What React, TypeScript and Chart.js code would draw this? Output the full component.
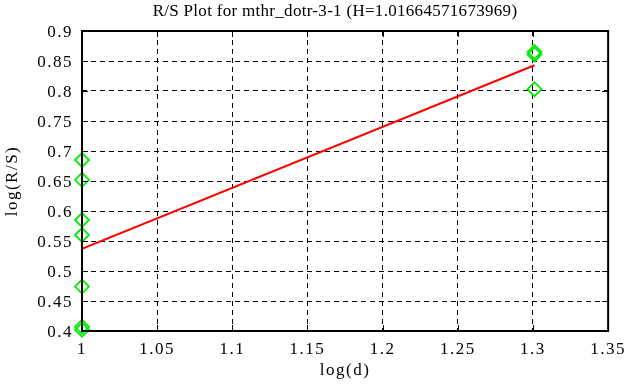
import React, { useEffect, useRef } from "react";
import { Chart, registerables } from "chart.js";

Chart.register(...registerables);

const TITLE = "R/S Plot for mthr_dotr-3-1 (H=1.01664571673969)";
const X_LABEL = "log(d)";
const Y_LABEL = "log(R/S)";

const xTicks = [1, 1.05, 1.1, 1.15, 1.2, 1.25, 1.3, 1.35];
const yTicks = [0.4, 0.45, 0.5, 0.55, 0.6, 0.65, 0.7, 0.75, 0.8, 0.85, 0.9];

const pointsX = [1, 1, 1, 1, 1, 1, 1, 1.30103, 1.30103, 1.30103];
const pointsY = [0.685, 0.652, 0.585, 0.56, 0.474, 0.407, 0.402, 0.865, 0.861, 0.803];

const fitX = [1, 1.30103];
const fitY = [0.537, 0.843];

const FONT = "'Liberation Serif', 'Times New Roman', serif";

export default function App() {
  const ref = useRef<HTMLCanvasElement | null>(null);

  useEffect(() => {
    const canvas = ref.current;
    if (!canvas) return;

    const framePlugin = {
      id: "frame",
      beforeDraw(chart: any) {
        (chart.ctx as any).letterSpacing = "1.5px";
      },
      afterDatasetsDraw(chart: any) {
        const { ctx, chartArea } = chart;
        const { left, right, top, bottom } = chartArea;
        const xs = chart.scales.x;
        const ys = chart.scales.y;
        ctx.save();
        ctx.strokeStyle = "#000";
        ctx.lineWidth = 1;
        ctx.setLineDash([]);
        const tl = 6;
        ctx.beginPath();
        xTicks.forEach((v) => {
          const px = Math.round(xs.getPixelForValue(v)) + 0.5;
          ctx.moveTo(px, top);
          ctx.lineTo(px, top + tl);
          ctx.moveTo(px, bottom);
          ctx.lineTo(px, bottom - tl);
        });
        yTicks.forEach((v) => {
          const py = Math.round(ys.getPixelForValue(v)) + 0.5;
          ctx.moveTo(left, py);
          ctx.lineTo(left + tl, py);
          ctx.moveTo(right, py);
          ctx.lineTo(right - tl, py);
        });
        ctx.stroke();
        ctx.lineWidth = 2;
        ctx.strokeRect(left, top, right - left, bottom - top);
        ctx.restore();
      },
      afterDraw(chart: any) {
        const { ctx } = chart;
        ctx.save();
        (ctx as any).letterSpacing = "0.3px";
        ctx.fillStyle = "#000";
        ctx.font = "17px " + FONT;
        ctx.textAlign = "center";
        ctx.textBaseline = "middle";
        ctx.fillText(TITLE, 335, 12);
        ctx.restore();
      },
    };

    const chart = new Chart(canvas, {
      type: "scatter",
      data: {
        datasets: [
          {
            label: "fit",
            data: fitX.map((x, i) => ({ x, y: fitY[i] })),
            showLine: true,
            borderColor: "#ff0000",
            borderWidth: 2,
            pointRadius: 0,
            order: 1,
          },
          {
            label: "data",
            data: pointsX.map((x, i) => ({ x, y: pointsY[i] })),
            showLine: false,
            clip: false,
            pointStyle: "rectRot",
            pointRadius: 7,
            borderColor: "#00ee00",
            backgroundColor: "rgba(0,0,0,0)",
            pointBorderWidth: 1.8,
            order: 2,
          } as any,
        ],
      },
      options: {
        animation: false,
        responsive: false,
        maintainAspectRatio: false,
        events: [],
        layout: { padding: { left: 0, right: 22, top: 31, bottom: 0 } },
        plugins: {
          legend: { display: false },
          title: { display: false },
          tooltip: { enabled: false },
        },
        scales: {
          x: {
            type: "linear",
            min: 1,
            max: 1.35,
            afterFit: (s: any) => {
              s.height = 56;
            },
            afterBuildTicks: (s: any) => {
              s.ticks = xTicks.map((v) => ({ value: v }));
            },
            ticks: {
              color: "#000",
              font: { family: FONT, size: 17 },
              padding: 8,
              autoSkip: false,
              maxRotation: 0,
              callback: (v: any) => String(Math.round(Number(v) * 100) / 100),
            },
            grid: { color: "#000", lineWidth: 1, drawTicks: false },
            border: { display: false, dash: [5, 4] },
            title: {
              display: true,
              text: X_LABEL,
              color: "#000",
              font: { family: FONT, size: 17 },
              padding: { top: 0, bottom: 6 },
            },
          },
          y: {
            type: "linear",
            min: 0.4,
            max: 0.9,
            afterFit: (s: any) => {
              s.width = 82;
            },
            afterBuildTicks: (s: any) => {
              s.ticks = yTicks.map((v) => ({ value: v }));
            },
            ticks: {
              color: "#000",
              font: { family: FONT, size: 17 },
              padding: 9,
              labelOffset: 2,
              autoSkip: false,
              callback: (v: any) => String(Math.round(Number(v) * 100) / 100),
            },
            grid: { color: "#000", lineWidth: 1, drawTicks: false },
            border: { display: false, dash: [5, 4] },
            title: {
              display: true,
              text: Y_LABEL,
              color: "#000",
              font: { family: FONT, size: 17 },
              padding: { top: 2, bottom: 0 },
            },
          },
        },
      },
      plugins: [framePlugin],
    } as any);

    return () => chart.destroy();
  }, []);

  return (
    <div style={{ position: "absolute", left: 0, top: 0, width: 631, height: 387, background: "#fff" }}>
      <canvas ref={ref} width={631} height={387} style={{ width: 631, height: 387, display: "block" }} />
    </div>
  );
}
